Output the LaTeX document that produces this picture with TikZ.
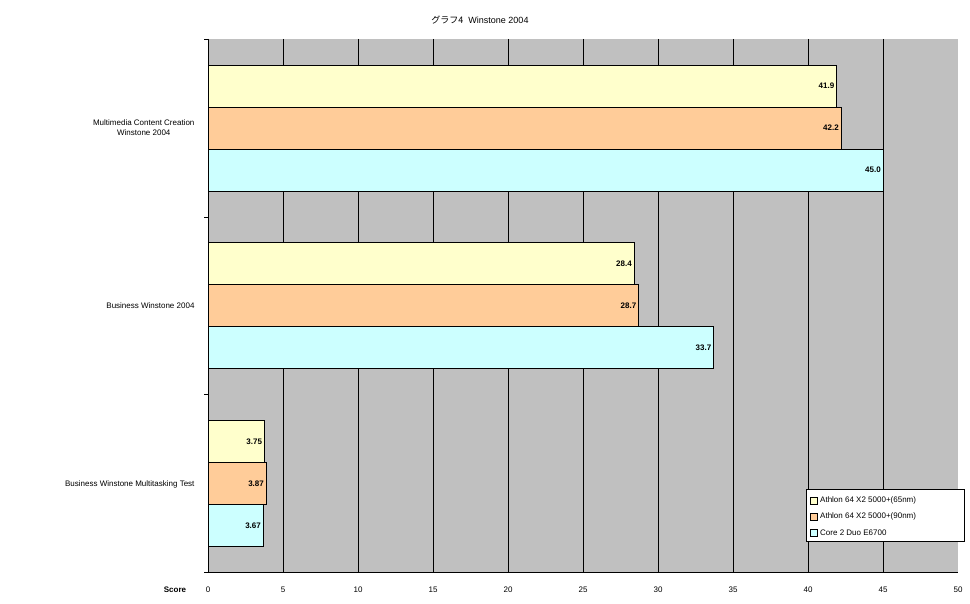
\documentclass[tikz,border=0pt]{standalone}
\usepackage{fontspec}
\setmainfont{Liberation Sans}
\newfontfamily\cjk{Noto Sans CJK JP}
\definecolor{plotgray}{HTML}{C0C0C0}
\definecolor{byel}{HTML}{FFFFCC}
\definecolor{bora}{HTML}{FFCC99}
\definecolor{bcya}{HTML}{CCFFFF}
\begin{document}
\begin{tikzpicture}[x=1pt,y=-1pt,
  bar/.style={draw=black,line width=0.8pt},
  val/.style={anchor=east,font=\fontsize{8}{9}\selectfont\bfseries,inner sep=2pt},
  lab/.style={font=\fontsize{8}{10}\selectfont,align=center},
  tick/.style={font=\fontsize{8}{9}\selectfont}]
\useasboundingbox (0,0) rectangle (970,604);
\fill[white] (0,0) rectangle (970,604);
\fill[plotgray] (208,39) rectangle (958,572);
\foreach \v in {5,10,...,45} \draw[black,line width=0.6pt] ({208+15*\v},39) -- ({208+15*\v},572);
\draw[line width=0.8pt] (208,39) -- (208,572) -- (958,572);
\foreach \yy in {39,217,394,572} \draw (204,\yy) -- (208,\yy);
\node[font=\fontsize{9}{10}\selectfont] (title) at (480,20) {{\cjk グラフ4}\ \ Winstone 2004};
% bars
\foreach \i/\a/\b/\c/\la/\lb/\lc in {0/41.9/42.2/45.0/41.9/42.2/45.0,1/28.4/28.7/33.7/28.4/28.7/33.7,2/3.75/3.87/3.67/3.75/3.87/3.67}{
  \pgfmathsetmacro\t{39+177.7*\i+26}
  \draw[bar,fill=byel] (208,\t) rectangle ({208+15*\a},\t+42) node[val,midway,anchor=center] {};
  \node[val] at ({208+15*\a},\t+21) {\la};
  \draw[bar,fill=bora] (208,\t+42) rectangle ({208+15*\b},\t+84);
  \node[val] at ({208+15*\b},\t+63) {\lb};
  \draw[bar,fill=bcya] (208,\t+84) rectangle ({208+15*\c},\t+126);
  \node[val] at ({208+15*\c},\t+105) {\lc};
}
\node[lab,anchor=east] (c1) at (198,128) {Multimedia Content Creation\\Winstone 2004};
\node[lab,anchor=east] (c2) at (198,306) {Business Winstone 2004};
\node[lab,anchor=east] (c3) at (198,484) {Business Winstone Multitasking Test};
\foreach \v in {0,5,...,50} \node[tick] at ({208+15*\v},590) {\v};
\node[tick,font=\fontsize{8}{9}\selectfont\bfseries] (score) at (175,590) {Score};
% legend
\draw[fill=white,line width=0.5pt] (806,489) rectangle (964,541);
\foreach \k/\col/\txt in {0/byel/Athlon 64 X2 5000+(65nm),1/bora/Athlon 64 X2 5000+(90nm),2/bcya/Core 2 Duo E6700}{
  \draw[fill=\col,line width=0.4pt] (810,{497+16*\k}) rectangle (817,{504+16*\k});
  \node[tick,anchor=west,inner sep=1pt] at (819,{500.5+16*\k}) {\txt};
}
\end{tikzpicture}
\end{document}
